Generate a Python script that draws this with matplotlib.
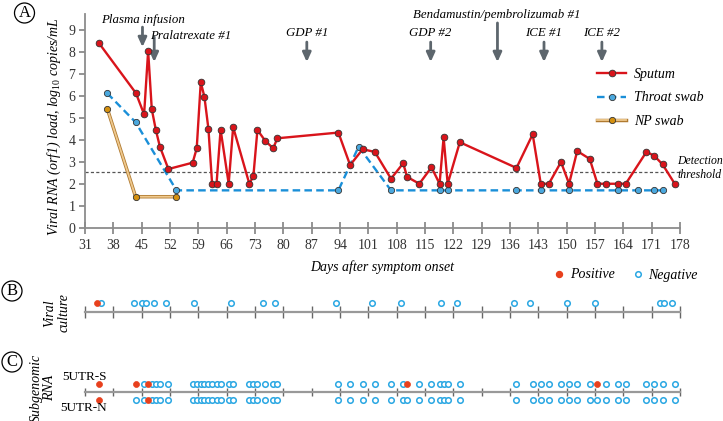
import matplotlib
matplotlib.use("Agg")
import matplotlib.pyplot as plt
import matplotlib.patheffects as pe
from matplotlib.lines import Line2D

plt.rcParams['font.family'] = ['Liberation Serif', 'DejaVu Serif']
plt.rcParams['mathtext.fontset'] = 'custom'
plt.rcParams['mathtext.rm'] = 'Liberation Serif'
plt.rcParams['mathtext.it'] = 'Liberation Serif:italic'

# ---- data ----
sputum_days = [34.5, 43.6, 45.6, 46.6, 47.5, 48.5, 49.5, 51.6,
               57.6, 58.6, 59.6, 60.5, 61.5, 62.4, 63.5, 64.5, 66.5, 67.6,
               71.6, 72.6, 73.6, 75.5, 77.5, 78.5,
               93.6, 96.5, 99.6, 102.6, 106.6, 109.6, 110.6, 113.6, 116.6,
               118.6, 119.6, 120.6, 123.6,
               137.6, 141.6, 143.6, 145.6, 148.6, 150.6, 152.6, 155.7, 157.6,
               159.7, 162.7, 164.6, 169.7, 171.6, 173.7, 176.7]
sputum_load = [8.39, 6.12, 5.16, 8.04, 5.39, 4.45, 3.69, 2.67,
               2.96, 3.61, 6.62, 5.96, 4.49, 2.0, 2.0, 4.46, 2.0, 4.58,
               2.0, 2.35, 4.45, 3.96, 3.61, 4.07,
               4.33, 2.85, 3.57, 3.45, 2.23, 2.93, 2.31, 2.0, 2.75,
               2.0, 4.11, 2.0, 3.89,
               2.72, 4.25, 2.0, 2.0, 2.99, 2.0, 3.49, 3.13, 2.0,
               2.0, 2.0, 2.0, 3.45, 3.28, 2.88, 2.0]

throat_days = [36.5, 43.5, 53.6, 93.6, 98.6, 106.6, 118.6, 120.6, 137.6,
               143.6, 150.6, 162.7, 167.7, 171.6, 173.7]
throat_load = [6.12, 4.8, 1.7, 1.7, 3.69, 1.7, 1.7, 1.7, 1.7,
               1.7, 1.7, 1.7, 1.7, 1.7, 1.7]

np_days = [36.5, 43.5, 53.6]
np_load = [5.42, 1.41, 1.41]

threshold = 2.55

treat_labels = ["Plasma infusion", "Pralatrexate #1", "GDP #1", "GDP #2",
                "Bendamustin/pembrolizumab #1", "ICE #1", "ICE #2"]
treat_days = [45.2, 48.1, 85.8, 116.4, 132.9, 144.4, 158.7]

culture_pos = [34.0]
culture_neg = [35, 43, 45, 46, 48, 51, 58, 67, 75, 78, 93, 102, 109, 119,
               123, 137, 141, 150, 157, 173, 174, 176]

sg_s_pos = [34.5, 43.6, 46.6, 110.6, 157.6]
sg_n_pos = [34.5, 46.6]
sg_s_neg = [d for d in sputum_days if d not in sg_s_pos]
sg_n_neg = [d for d in sputum_days if d not in sg_n_pos]

xticks = list(range(31, 179, 7))

RED = '#d9141b'
BLUE = '#1a8fd8'
BLUE_M = '#4aa8de'
TAN = '#efc98e'
NP_M = '#d4900f'
GREY = '#8c8c8c'
ARROW = '#5d666d'
POS = '#e8401d'
NEG = '#2aa7e3'

W, H = 723, 421
fig = plt.figure(figsize=(7.23, 4.21), dpi=100)


def px_axes(left, top, right, bottom):
    return fig.add_axes([left / W, 1 - bottom / H, (right - left) / W, (bottom - top) / H])


# ---- panel A ----
ax = px_axes(85, 13.5, 680, 227.7)
ax.set_xlim(31, 178)
ax.set_ylim(0, 9.75)

ax.axhline(threshold, color='#555555', lw=0.9, ls=(0, (2.5, 1.8)), zorder=1)

np_stroke = [pe.Stroke(linewidth=2.5, foreground='#b07a30'), pe.Normal()]
ax.plot(np_days, np_load, color=TAN, lw=1.3, zorder=2, path_effects=np_stroke)
ax.plot(np_days, np_load, ls='none', marker='o', ms=4.5, mfc=NP_M,
        mec='#333333', mew=0.6, zorder=2.5)
ax.plot(throat_days, throat_load, color=BLUE, lw=1.7, ls=(0, (3.2, 1.8)),
        marker='o', ms=4.5, mfc=BLUE_M, mec='#333333', mew=0.6, zorder=3)
ax.plot(sputum_days, sputum_load, color=RED, lw=1.7, marker='o', ms=4.8,
        mfc=RED, mec='#333333', mew=0.6, zorder=4)

# treatment arrows
arrow_top = [9.13, 8.68, 8.45, 8.45, 9.32, 8.45, 8.45]
arrow_tip = [8.22, 7.54, 7.54, 7.54, 7.54, 7.54, 7.54]
for d, t0, t1 in zip(treat_days, arrow_top, arrow_tip):
    ax.annotate('', xy=(d, t1), xytext=(d, t0),
                arrowprops=dict(arrowstyle='-|>,head_width=0.25,head_length=0.55',
                                color=ARROW, lw=2.0, shrinkA=0, shrinkB=0))
tfs = 9.3
ax.text(45.3, 9.45, treat_labels[0], ha='center', va='center', style='italic', fontsize=tfs)
ax.text(47.1, 8.73, treat_labels[1], ha='left', va='center', style='italic', fontsize=tfs)
ax.text(85.8, 8.86, treat_labels[2], ha='center', va='center', style='italic', fontsize=tfs)
ax.text(116.4, 8.86, treat_labels[3], ha='center', va='center', style='italic', fontsize=tfs)
ax.text(132.8, 9.68, treat_labels[4], ha='center', va='center', style='italic', fontsize=tfs)
ax.text(144.4, 8.86, treat_labels[5], ha='center', va='center', style='italic', fontsize=tfs)
ax.text(158.7, 8.86, treat_labels[6], ha='center', va='center', style='italic', fontsize=tfs)

ax.text(177.3, 2.72, "Detection\nthreshold", ha='left', va='center', style='italic',
        fontsize=8.5, linespacing=1.15, clip_on=False)

for s in ['top', 'right']:
    ax.spines[s].set_visible(False)
for s in ['left', 'bottom']:
    ax.spines[s].set_color(GREY)
    ax.spines[s].set_linewidth(1.3)
ax.set_xticks(xticks)
ax.set_yticks(range(0, 10))
ax.tick_params(axis='x', direction='inout', length=8, width=1.1, color='#777777',
               labelsize=10, labelcolor='#333333', pad=4)
ax.tick_params(axis='y', direction='out', length=4, width=1.1, color='#777777',
               labelsize=10, labelcolor='#333333', pad=3)

leg_handles = [
    Line2D([], [], color=RED, lw=1.7, marker='o', ms=4.8, mfc=RED, mec='#333333', mew=0.6),
    Line2D([], [], color=BLUE, lw=1.7, ls=(0, (3.2, 1.8)), marker='o', ms=4.5,
           mfc=BLUE_M, mec='#333333', mew=0.6),
    Line2D([], [], color=TAN, lw=1.3, path_effects=np_stroke),
]
leg = ax.legend(leg_handles, ["Sputum", "Throat swab", "NP swab"], loc='upper left',
                bbox_to_anchor=(597 / W, 1 - 68 / H), bbox_transform=fig.transFigure,
                frameon=False, borderpad=0, borderaxespad=0, handlelength=2.1,
                handletextpad=0.55, labelspacing=0.75, prop={'style': 'italic', 'size': 10})
# NP swab legend marker drawn over the stroked handle line
np_marker = Line2D([], [], ls='none', marker='o', ms=4.5, mfc=NP_M, mec='#333333', mew=0.6)
leg2 = ax.legend([Line2D([], [], ls='none')] * 2 + [np_marker], [" ", " ", " "],
                 loc='upper left', bbox_to_anchor=(597 / W, 1 - 68 / H),
                 bbox_transform=fig.transFigure, frameon=False, borderpad=0,
                 borderaxespad=0, handlelength=2.1, handletextpad=0.55,
                 labelspacing=0.75, prop={'style': 'italic', 'size': 10})
ax.add_artist(leg)

fig.text(54 / W, 1 - 127 / H, r"Viral RNA (orf1) load, log$_{\mathit{10}}$ copies/mL",
         rotation=90, ha='center', va='center', style='italic', fontsize=10)
fig.text(382.5 / W, 1 - 267 / H, "Days after symptom onset", ha='center', va='center',
         style='italic', fontsize=10)


def strip_axes(top, bottom, ticklen):
    a = px_axes(85, top, 680, bottom)
    a.set_xlim(31, 178)
    a.set_ylim(-1, 1)
    for s in ['top', 'right', 'left']:
        a.spines[s].set_visible(False)
    a.spines['bottom'].set_position(('data', 0))
    a.spines['bottom'].set_color('#999999')
    a.spines['bottom'].set_linewidth(1.6)
    a.set_xticks(xticks)
    a.set_yticks([])
    a.tick_params(axis='x', direction='inout', length=ticklen, width=1.0,
                  color='#666666', labelbottom=False)
    a.patch.set_visible(False)
    return a


# ---- panel B ----
axb = strip_axes(292.3, 332.3, 8)
axb.plot(culture_neg, [0.48] * len(culture_neg), ls='none', marker='o', ms=4.0,
         mfc='white', mec=NEG, mew=1.1, clip_on=False)
axb.plot(culture_pos, [0.48] * len(culture_pos), ls='none', marker='o', ms=4.3,
         mfc=POS, mec=POS, mew=0.5, clip_on=False)
fig.text(57 / W, 1 - 313 / H, "Viral\nculture", rotation=90, ha='center', va='center',
         style='italic', fontsize=10, linespacing=1.1)

# ---- panel C ----
axc = strip_axes(372, 412, 6)
for y, neg, pos in [(0.4, sg_s_neg, sg_s_pos), (-0.4, sg_n_neg, sg_n_pos)]:
    axc.plot(neg, [y] * len(neg), ls='none', marker='o', ms=4.0, mfc='white',
             mec=NEG, mew=1.1, clip_on=False)
    axc.plot(pos, [y] * len(pos), ls='none', marker='o', ms=4.3, mfc=POS,
             mec=POS, mew=0.5, clip_on=False)
fig.text(107 / W, 1 - 377.5 / H, "5UTR-S", ha='right', va='center', fontsize=9.5)
fig.text(107 / W, 1 - 408 / H, "5UTR-N", ha='right', va='center', fontsize=9.5)
fig.text(43 / W, 1 - 388 / H, "Subgenomic\nRNA", rotation=90, ha='center', va='center',
         style='italic', fontsize=10, linespacing=1.1)

# legend for B/C
bc_handles = [
    Line2D([], [], ls='none', marker='o', ms=4.3, mfc=POS, mec=POS),
    Line2D([], [], ls='none', marker='o', ms=4.0, mfc='white', mec=NEG, mew=1.1),
]
fig.legend(bc_handles, ["Positive", "Negative"], loc='upper left',
           bbox_to_anchor=(555 / W, 1 - 268.5 / H), ncol=2, frameon=False,
           borderpad=0, borderaxespad=0, handlelength=0.6, handletextpad=0.45,
           columnspacing=1.4, prop={'style': 'italic', 'size': 10})

# panel letters
for letter, x, y in [("A", 24.5, 13), ("B", 12, 291), ("C", 12, 362)]:
    fig.text(x / W, 1 - y / H, letter, ha='center', va='center', fontsize=12,
             bbox=dict(boxstyle='circle,pad=0.12', fc='white', ec='black', lw=0.9))

fig.savefig("out.png", dpi=100)
